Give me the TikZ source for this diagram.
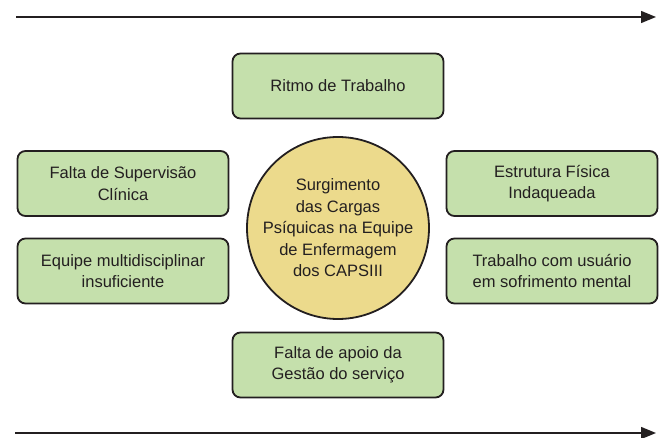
\documentclass[tikz,border=0pt]{standalone}
\usepackage{fontspec}
\setmainfont{Liberation Sans}
\usetikzlibrary{arrows.meta}
\definecolor{boxgreen}{RGB}{197,224,172}
\definecolor{circyellow}{RGB}{236,218,140}
\definecolor{inkdark}{RGB}{35,31,32}
\begin{document}
\begin{tikzpicture}[x=1pt,y=-1pt,
  factor/.style={draw=inkdark,line width=1.8pt,fill=boxgreen,rounded corners=8pt,
    minimum width=211pt,minimum height=65pt,align=center,text=inkdark,
    font=\fontsize{16.5}{21.5}\selectfont,inner sep=2pt},
  core/.style={circle,draw=inkdark,line width=1.8pt,fill=circyellow,minimum size=182pt,
    align=center,text=inkdark,font=\fontsize{16.5}{21.5}\selectfont,inner sep=0pt},
  timeline/.style={draw=inkdark,line width=1.4pt,-{Triangle[length=15pt,width=12pt]}}]
\useasboundingbox (0,0) rectangle (662,438);
\coordinate (t1) at (16,17);
\coordinate (t2) at (656,17);
\coordinate (b1) at (15,433);
\coordinate (b2) at (656,433);
\draw[timeline] (t1) -- (t2);
\draw[timeline] (b1) -- (b2);
\node[factor] (ritmo) at (338,86) {Ritmo de Trabalho};
\node[factor] (super) at (123,183.5) {Falta de Supervisão\\Clínica};
\node[factor] (equipe) at (123,271) {Equipe multidisciplinar\\insuficiente};
\node[factor] (estr) at (552,183.5) {Estrutura Física\\Indaqueada};
\node[factor] (trab) at (552,271) {Trabalho com usuário\\em sofrimento mental};
\node[factor] (apoio) at (338,365) {Falta de apoio da\\Gestão do serviço};
\node[core] (centro) at (338,228) {Surgimento\\das Cargas\\Psíquicas na Equipe\\de Enfermagem\\dos CAPSIII};
\end{tikzpicture}
\end{document}
